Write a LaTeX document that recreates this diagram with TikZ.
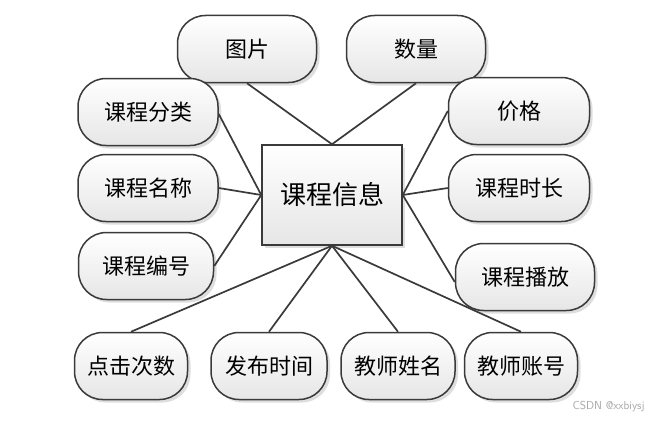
\documentclass[tikz,border=0pt]{standalone}
\usepackage{fontspec}
\newfontfamily\cjk{Noto Sans CJK SC}
\usetikzlibrary{shadows}
\definecolor{edgec}{HTML}{3A3A3A}
\definecolor{shadec}{HTML}{E6E6E6}
\begin{document}
\begin{tikzpicture}[x=1pt,y=-1pt,
  attr/.style={draw=edgec, line width=1.5pt, rounded corners=28pt, top color=white, bottom color=shadec,
    minimum height=67pt, inner sep=0pt, font=\cjk\fontsize{22}{24}\selectfont,
    drop shadow={shadow xshift=3pt, shadow yshift=-3pt, fill=black!25, opacity=0.5}},
  ent/.style={draw=edgec, line width=1.5pt, top color=white, bottom color=shadec, minimum width=140pt,
    minimum height=100pt, inner sep=0pt, font=\cjk\fontsize{26}{28}\selectfont,
    drop shadow={shadow xshift=3pt, shadow yshift=-3pt, fill=black!25, opacity=0.5}},
  link/.style={draw=edgec, line width=1.7pt}]
\useasboundingbox (0,0) rectangle (655,420);
\fill[white] (0,0) rectangle (655,420);

\node[ent] (e) at (332,195) {课程信息};

\node[attr, minimum width=139pt] (a1) at (247,49) {图片};
\node[attr, minimum width=139pt] (a2) at (416,49) {数量};
\node[attr, minimum width=140pt] (a3) at (148,112) {课程分类};
\node[attr, minimum width=141pt] (a4) at (519,111) {价格};
\node[attr, minimum width=140pt] (a5) at (148,188) {课程名称};
\node[attr, minimum width=141pt] (a6) at (519,188) {课程时长};
\node[attr, minimum width=135pt] (a7) at (146,266) {课程编号};
\node[attr, minimum width=139pt] (a8) at (525,277) {课程播放};
\node[attr, minimum width=113pt] (a9) at (131,366) {点击次数};
\node[attr, minimum width=116pt] (a10) at (269,366) {发布时间};
\node[attr, minimum width=114pt] (a11) at (398,366) {教师姓名};
\node[attr, minimum width=113pt] (a12) at (521,366) {教师账号};

\draw[link] (a1.south) -- (e.north);
\draw[link] (a2.south) -- (e.north);
\draw[link] ([yshift=-2pt]a3.east) -- (e.west);
\draw[link] (a5.east) -- (e.west);
\draw[link] (a7.east) -- (e.west);
\draw[link] (a4.west) -- (e.east);
\draw[link] (a6.west) -- (e.east);
\draw[link] ([yshift=-5pt]a8.west) -- (e.east);
\draw[link] (a9.north) -- (e.south);
\draw[link] (a10.north) -- (e.south);
\draw[link] (a11.north) -- (e.south);
\draw[link] (a12.north) -- (e.south);

\node[text=black!35, font=\sffamily\fontsize{11.5}{12}\selectfont, anchor=east] (wm) at (648,407) {CSDN @xxbiysj};
\end{tikzpicture}
\end{document}
